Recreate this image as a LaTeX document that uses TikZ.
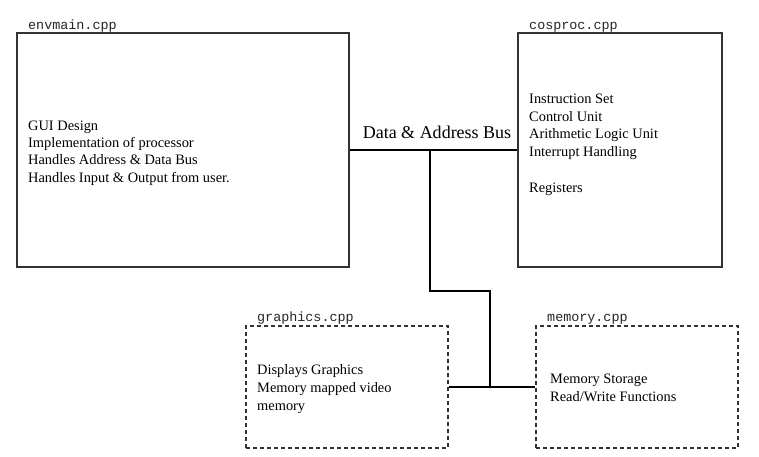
\documentclass[tikz,border=0pt]{standalone}
\usepackage{fontspec}
\setmainfont{Liberation Serif}
\setmonofont{Liberation Mono}
\begin{document}
\begin{tikzpicture}[x=1pt,y=-1pt,
  box/.style={draw=black!80, line width=1.1pt, inner sep=0pt},
  dbox/.style={box, dash pattern=on 4pt off 3pt},
  txt/.style={anchor=base west, inner sep=0pt, font=\fontsize{14.4}{17}\selectfont},
  lbl/.style={anchor=base west, inner sep=0pt, font=\ttfamily\fontsize{13.4}{15}\selectfont, text=black!85},
  bus/.style={line width=2pt, black}]
\useasboundingbox[fill=white] (0,0) rectangle (759,456);
% boxes
\node[box, minimum width=332pt, minimum height=234pt] (env) at (183,150) {};
\node[box, minimum width=204pt, minimum height=234pt] (cos) at (620,150) {};
\node[dbox, minimum width=202pt, minimum height=122pt] (gfx) at (347,387) {};
\node[dbox, minimum width=202pt, minimum height=122pt] (mem) at (637,387) {};
% titles
\node[lbl] (envl) at (28,29) {envmain.cpp};
\node[lbl] (cosl) at (529,29) {cosproc.cpp};
\node[lbl] (gfxl) at (257,321) {graphics.cpp};
\node[lbl] (meml) at (547,321) {memory.cpp};
% envmain text
\node[txt] (e1) at (28,130) {GUI Design};
\node[txt] (e2) at (28,147) {Implementation of processor};
\node[txt] (e3) at (28,164.5) {Handles Address \& Data Bus};
\node[txt] (e4) at (28,182) {Handles Input \& Output from user.};
% cosproc text
\node[txt] (c1) at (529,103) {Instruction Set};
\node[txt] (c2) at (529,121) {Control Unit};
\node[txt] (c3) at (529,138) {Arithmetic Logic Unit};
\node[txt] (c4) at (529,156) {Interrupt Handling};
\node[txt] (c5) at (529,192) {Registers};
% graphics text
\node[txt] (g1) at (257,374) {Displays Graphics};
\node[txt] (g2) at (257,392) {Memory mapped video};
\node[txt] (g3) at (257,410) {memory};
% memory text
\node[txt] (m1) at (550,383) {Memory Storage};
\node[txt] (m2) at (550,401) {Read/Write Functions};
% bus
\node[anchor=base, inner sep=0pt, font=\fontsize{18}{20}\selectfont] (busl) at (437,138) {Data \& Address Bus};
\coordinate (j1) at (430,150);
\coordinate (j2) at (430,291);
\coordinate (j3) at (490,291);
\coordinate (j4) at (490,387);
\draw[bus] (env.east |- j1) -- (cos.west |- j1);
\draw[bus] (j1) -- (j2) -- (j3) -- (j4);
\draw[bus] (gfx.east |- j4) -- (mem.west |- j4);
\end{tikzpicture}
\end{document}
